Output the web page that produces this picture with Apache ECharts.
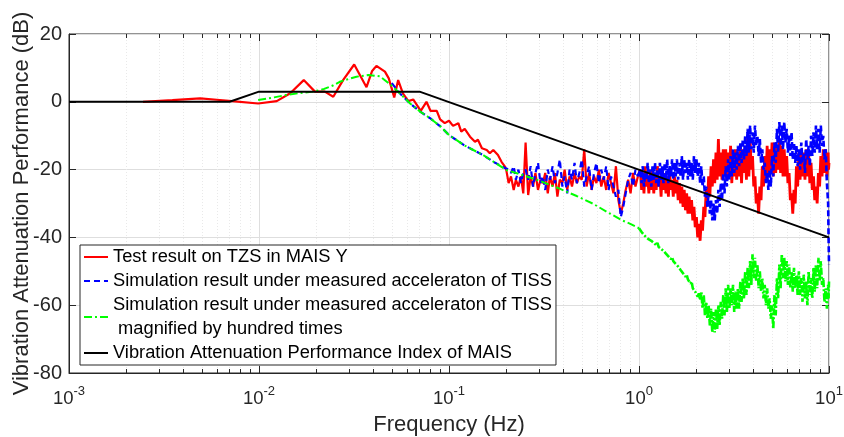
<!DOCTYPE html>
<html>
<head>
<meta charset="utf-8">
<title>Vibration Attenuation Performance</title>
<script src="https://cdn.jsdelivr.net/npm/echarts@6/dist/echarts.min.js"></script>
<style>
  html, body { margin: 0; padding: 0; background: #fff; }
  #chart { width: 844px; height: 437px; }
</style>
</head>
<body>
<div id="chart"></div>
<script>
// ---- Test result on TZS below 0.2 Hz (Hz / dB) ----
const testLowF = [0.00245, 0.0035, 0.0049, 0.0060, 0.0072, 0.0099, 0.0124, 0.0146, 0.0172, 0.0197,
  0.0222, 0.0246, 0.0277, 0.0317, 0.0368, 0.0394, 0.0415, 0.046, 0.0482, 0.0515,
  0.054, 0.0572, 0.0611, 0.0648, 0.0710, 0.0761, 0.0800, 0.0862, 0.0898, 0.095,
  0.100, 0.105, 0.112, 0.116, 0.121, 0.129, 0.137, 0.142, 0.149, 0.158,
  0.164, 0.171, 0.181, 0.189, 0.197];
const testLowDb = [0, 0.5, 1.0, 0.6, 0.2, -0.5, 0.2, 2.5, 6.4, 3,
  3, 1.5, 6.4, 11, 4.3, 9.1, 10.6, 8.9, 6.9, 1.3,
  6.4, 2.5, 0.2, 0.7, -2.7, 0, -2.7, -2.7, -5.2, -6.3,
  -5.6, -7.1, -6.3, -8.8, -8, -10.3, -11.8, -11.2, -13.7, -14.2,
  -15.2, -14.2, -15.7, -17.7, -19.1];

// ---- Frequency samples from 0.2 Hz to 1 Hz ----
const midFreq = [
  0.200, 0.206, 0.212, 0.219, 0.225, 0.232, 0.239, 0.246, 0.253, 0.261,
  0.269, 0.277, 0.285, 0.294, 0.303, 0.312, 0.321, 0.331, 0.340, 0.351,
  0.361, 0.372, 0.383, 0.395, 0.406, 0.419, 0.431, 0.444, 0.458, 0.471,
  0.485, 0.500, 0.515, 0.530, 0.546, 0.563, 0.580, 0.597, 0.615, 0.633,
  0.652, 0.672, 0.692, 0.713, 0.734, 0.756, 0.779, 0.802, 0.826, 0.851,
  0.877, 0.903, 0.930, 0.958, 0.987];

// ---- Frequency samples from 1 Hz to 10 Hz (denser) ----
const denseFreq = [
  1.017, 1.032, 1.047, 1.062, 1.078, 1.094, 1.111, 1.127, 1.144, 1.161,
  1.178, 1.196, 1.214, 1.232, 1.250, 1.269, 1.288, 1.307, 1.326, 1.346,
  1.366, 1.386, 1.407, 1.428, 1.449, 1.471, 1.493, 1.515, 1.537, 1.560,
  1.583, 1.607, 1.631, 1.655, 1.680, 1.705, 1.730, 1.756, 1.782, 1.809,
  1.836, 1.863, 1.891, 1.919, 1.947, 1.976, 2.006, 2.036, 2.066, 2.097,
  2.128, 2.160, 2.192, 2.224, 2.257, 2.291, 2.325, 2.360, 2.395, 2.431,
  2.467, 2.504, 2.541, 2.579, 2.617, 2.656, 2.695, 2.735, 2.776, 2.818,
  2.860, 2.902, 2.945, 2.989, 3.034, 3.079, 3.125, 3.171, 3.218, 3.266,
  3.315, 3.365, 3.414, 3.465, 3.517, 3.569, 3.622, 3.676, 3.731, 3.787,
  3.843, 3.900, 3.958, 4.017, 4.077, 4.138, 4.199, 4.262, 4.325, 4.390,
  4.455, 4.522, 4.589, 4.657, 4.726, 4.797, 4.868, 4.941, 5.014, 5.089,
  5.165, 5.242, 5.320, 5.399, 5.479, 5.561, 5.643, 5.728, 5.813, 5.900,
  5.987, 6.077, 6.167, 6.259, 6.352, 6.446, 6.542, 6.640, 6.739, 6.840,
  6.941, 7.045, 7.149, 7.256, 7.363, 7.473, 7.584, 7.698, 7.812, 7.929,
  8.046, 8.166, 8.287, 8.411, 8.536, 8.664, 8.792, 8.924, 9.056, 9.191,
  9.327, 9.466, 9.607, 9.750, 9.895, 9.947, 10.0];

// ---- Test result on TZS, 0.2-1 Hz (one per midFreq) ----
const testMidDb = [
  -20, -24, -22, -26, -23, -25, -22, -27, -12, -27.5,
  -22, -25, -21, -26, -23, -24, -21, -27, -22, -25,
  -21, -28, -23, -24, -20, -26, -22, -25, -21, -24,
  -22, -23, -14, -25, -21, -26, -22, -24, -20, -25,
  -22, -26, -21, -24, -27, -19, -29, -33, -30, -26,
  -23, -27, -21, -25, -22];
// ---- Test result on TZS, 1-10 Hz (one per denseFreq) ----
const testDenseDb = [
  -20, -26, -21, -27, -19, -25, -22, -27, -20, -26,
  -20, -27, -21, -26, -19, -25, -22, -28, -20, -26,
  -21, -27, -22, -28, -21, -26, -23, -28, -22, -27,
  -23, -29, -24, -30, -25, -31, -26, -32, -27, -33,
  -28, -33, -29, -35, -31, -37, -34, -40, -36, -41,
  -35, -38, -31, -34, -26, -30, -22, -28, -19, -25,
  -17, -24, -15, -23, -11, -22, -15, -23, -14, -22,
  -14, -23, -15, -22, -13, -24, -15, -22, -14, -23,
  -15, -22, -13, -24, -14, -21, -13, -23, -10, -22,
  -11, -20, -16, -25, -22, -30, -27, -33, -25, -29,
  -19, -25, -16, -23, -13, -22, -14, -21, -12, -22,
  -12, -21, -13, -20, -11, -21, -13, -22, -14, -22,
  -16, -24, -21, -29, -27, -33, -26, -30, -19, -25,
  -15, -23, -14, -22, -15, -23, -14, -22, -16, -24,
  -18, -26, -22, -29, -25, -30, -21, -25, -16, -22,
  -14, -21, -14, -22, -15, -20, -18];

// ---- Simulation under measured acceleration of TISS ----
const simLowF = [0.050, 0.0551, 0.0624, 0.0705, 0.0798, 0.0903, 0.100, 0.120, 0.151, 0.175, 0.197];
const simLowDb = [5.5, 2.5, -0.5, -2.9, -4.9, -7.3, -9.8, -12.8, -15.7, -18, -19.5];
const simMidDb = [
  -19, -20, -21, -19, -23, -20, -24, -21, -20, -23,
  -19, -25, -21, -18, -24, -22, -26, -20, -23, -19,
  -24, -21, -17, -25, -22, -27, -20, -23, -18, -24,
  -21, -17, -25, -22, -19, -26, -21, -18, -24, -20,
  -23, -19, -26, -22, -25, -28, -26, -34, -31, -27,
  -23, -21, -25, -20, -22];
const simDenseDb = [
  -20, -24, -19, -25, -21, -23, -18, -24, -20, -25,
  -19, -23, -18, -24, -20, -25, -18, -23, -19, -24,
  -18, -23, -17, -24, -19, -22, -17, -23, -18, -22,
  -17, -23, -18, -22, -16, -23, -17, -21, -18, -23,
  -17, -22, -18, -23, -16, -21, -17, -22, -18, -24,
  -19, -25, -22, -28, -25, -31, -27, -33, -29, -35,
  -30, -35, -29, -33, -26, -31, -24, -29, -21, -27,
  -19, -25, -17, -23, -16, -22, -14, -21, -15, -20,
  -13, -19, -12, -18, -11, -17, -10, -16, -8, -15,
  -7, -14, -9, -15, -7, -13, -10, -16, -11, -18,
  -14, -20, -18, -24, -21, -26, -20, -25, -16, -22,
  -12, -18, -8, -15, -6, -13, -7, -14, -6, -12,
  -8, -15, -10, -16, -9, -17, -12, -18, -13, -19,
  -14, -20, -12, -18, -15, -21, -11, -17, -13, -19,
  -10, -16, -9, -15, -7, -14, -8, -15, -7, -13,
  -10, -17, -14, -24, -30, -40, -48];

// ---- Same simulation magnified by hundred times ----
const magLowF = [0.0099, 0.012, 0.0139, 0.0165, 0.0193, 0.022, 0.0245, 0.0266, 0.0295, 0.0326,
  0.0376, 0.0433, 0.0489, 0.0551, 0.0624, 0.0705, 0.0798, 0.0903, 0.100, 0.120,
  0.151, 0.175, 0.200, 0.250, 0.300, 0.385, 0.470, 0.570, 0.680, 0.810,
  0.900, 1.000];
const magLowDb = [0.5, 1.3, 2.0, 2.6, 3.0, 3.8, 4.8, 5.9, 6.7, 7.4,
  7.9, 7.5, 5.2, 2.5, -0.5, -2.9, -4.9, -7.3, -9.8, -12.8,
  -15.7, -18, -20.1, -21.8, -23.3, -25.7, -27.8, -30, -32.5, -34.9,
  -36, -37.3];
const magDenseDb = [
  -37.8, -38.4, -38.5, -39.3, -39, -40, -39.8, -40.6, -40.3, -41,
  -40.6, -41.6, -41.4, -42.3, -41.6, -42.8, -42.5, -43.4, -43, -44,
  -44, -44.8, -44.3, -45.6, -45.6, -46.4, -45.8, -47, -47.2, -47.8,
  -47.6, -48.6, -49, -49.6, -49.2, -50.6, -51, -51.6, -51, -52.4,
  -52.8, -53.6, -53, -55, -55, -56, -55.5, -57.5, -56.5, -58.5,
  -56, -61, -57, -63, -59, -64, -60, -66, -61, -68,
  -62, -68, -61, -67, -60, -66, -59, -64, -57, -63,
  -55, -62, -54, -61, -55, -60, -54, -62, -56, -61,
  -55, -61, -53, -59, -52, -58, -50, -57, -49, -55,
  -47, -54, -45, -52, -46, -53, -48, -55, -50, -56,
  -52, -58, -54, -60, -55, -61, -58, -64, -60, -67,
  -57, -63, -52, -58, -48, -55, -45, -52, -46, -53,
  -47, -54, -48, -55, -50, -56, -49, -55, -51, -57,
  -50, -57, -52, -59, -51, -58, -53, -60, -50, -57,
  -52, -58, -49, -56, -48, -55, -46, -53, -47, -54,
  -52, -59, -55, -61, -54, -58, -53];

// ---- Vibration attenuation performance index of MAIS ----
const indexF = [0.001, 0.007, 0.01, 0.07, 10];
const indexDb = [0, 0, 3, 3, -40];

// ---- Axis ticks ----
const yTicks = [-80, -60, -40, -20, 0, 20];
const decades = [-3, -2, -1, 0];
const minorMultipliers = [2, 3, 4, 5, 6, 7, 8, 9];

const pairs = (fs, vs) => fs.map((f, i) => [f, vs[i]]);

// below 1 Hz: thin strokes; above 1 Hz the curves form dense bands
const testLight = pairs(testLowF, testLowDb).concat(pairs(midFreq, testMidDb));
const testDense = testLight.slice(-1).concat(pairs(denseFreq, testDenseDb));
const simLight = pairs(simLowF, simLowDb).concat(pairs(midFreq, simMidDb));
const simDense = simLight.slice(-1).concat(pairs(denseFreq, simDenseDb));
const magLight = pairs(magLowF, magLowDb);
const magDense = magLight.slice(-1).concat(pairs(denseFreq, magDenseDb));
const indexData = pairs(indexF, indexDb);

// minor tick positions in log10 units (for the helper value axes)
const minorLog = [];
decades.forEach(d => minorMultipliers.forEach(m => minorLog.push(Math.log10(m) + d)));

const FONT = '"Liberation Sans", Arial, Helvetica, sans-serif';
const INK = '#262626';

const NAME_TEST = 'Test result on TZS in MAIS Y';
const NAME_SIM = 'Simulation result under measured acceleraton of TISS';
const NAME_MAG = 'Simulation result under measured acceleraton of TISS\n magnified by hundred times';
const NAME_INDEX = 'Vibration Attenuation Performance Index of MAIS';

const chart = echarts.init(document.getElementById('chart'), null, { renderer: 'canvas' });

const hidden = { show: false };
const noLine = { show: false, onZero: false };

function lineSeries(name, data, color, width, dash, z) {
  return {
    name, type: 'line', data, symbol: 'none', z,
    lineStyle: { color, width, type: dash || 'solid' },
    itemStyle: { color }
  };
}

chart.setOption({
  animation: false,
  backgroundColor: '#ffffff',
  textStyle: { fontFamily: FONT },
  grid: {
    left: 69, right: 15, top: 34, bottom: 64,
    show: true, borderColor: INK, borderWidth: 1, backgroundColor: '#ffffff',
    outerBoundsMode: 'none'
  },
  legend: {
    orient: 'vertical',
    left: 80, top: 245,
    padding: [0, 4, 0, 3],
    itemGap: 0,
    itemWidth: 24, itemHeight: 2,
    icon: 'inherit',
    backgroundColor: '#ffffff',
    borderColor: INK, borderWidth: 1, borderRadius: 0,
    selectedMode: false,
    textStyle: { fontFamily: FONT, fontSize: 18.3, color: '#000000', lineHeight: 24 },
    data: [NAME_TEST, NAME_SIM, NAME_MAG, NAME_INDEX]
  },
  xAxis: [
    {
      type: 'log', logBase: 10, min: 0.001, max: 10, position: 'bottom',
      name: 'Frequency (Hz)', nameLocation: 'middle', nameGap: 41, nameMoveOverlap: false,
      nameTextStyle: { fontFamily: FONT, fontSize: 22, color: INK },
      axisLine: { show: true, onZero: false, lineStyle: { color: INK, width: 1 } },
      axisTick: { show: true, inside: true, length: 7, lineStyle: { color: INK } },
      minorTick: hidden,
      axisLabel: {
        margin: 9,
        formatter: v => '{b|10}{e|' + Math.round(Math.log10(v)) + '}',
        rich: {
          b: { fontFamily: FONT, fontSize: 18.5, color: INK, verticalAlign: 'bottom', lineHeight: 26 },
          e: { fontFamily: FONT, fontSize: 13, color: INK, verticalAlign: 'top', lineHeight: 15, padding: [3, 0, 0, 0] }
        }
      },
      splitLine: { show: true, lineStyle: { color: '#dedede', width: 1 } }
    },
    {
      type: 'log', logBase: 10, min: 0.001, max: 10, position: 'top',
      axisLine: noLine,
      axisTick: { show: true, inside: true, length: 7, lineStyle: { color: INK } },
      axisLabel: hidden, splitLine: hidden
    },
    {
      type: 'value', min: -3, max: 1, position: 'bottom',
      axisLine: noLine,
      axisTick: { show: true, inside: true, length: 4, customValues: minorLog, lineStyle: { color: INK } },
      axisLabel: { show: false, customValues: minorLog },
      splitLine: { show: true, lineStyle: { color: '#e9e9e9', width: 1, type: [1, 2] } }
    },
    {
      type: 'value', min: -3, max: 1, position: 'top',
      axisLine: noLine,
      axisTick: { show: true, inside: true, length: 4, customValues: minorLog, lineStyle: { color: INK } },
      axisLabel: { show: false, customValues: minorLog },
      splitLine: hidden
    }
  ],
  yAxis: [
    {
      type: 'value', min: -80, max: 20, interval: 20, position: 'left',
      name: 'Vibration Attenuation Performance (dB)', nameLocation: 'middle', nameGap: 36, nameMoveOverlap: false,
      nameTextStyle: { fontFamily: FONT, fontSize: 22, color: INK },
      axisLine: { show: true, onZero: false, lineStyle: { color: INK, width: 1 } },
      axisTick: { show: true, inside: true, length: 7, lineStyle: { color: INK } },
      axisLabel: { margin: 7, fontFamily: FONT, fontSize: 20, color: INK, customValues: yTicks },
      splitLine: { show: true, lineStyle: { color: '#dedede', width: 1 } }
    },
    {
      type: 'value', min: -80, max: 20, interval: 20, position: 'right',
      axisLine: noLine,
      axisTick: { show: true, inside: true, length: 7, lineStyle: { color: INK } },
      axisLabel: hidden, splitLine: hidden
    }
  ],
  series: [
    lineSeries(NAME_TEST, testLight, '#ff0000', 2.2, null, 10),
    lineSeries(NAME_TEST, testDense, '#ff0000', 2.8, null, 10),
    lineSeries(NAME_SIM, simLight, '#0000ff', 2.2, [6, 4], 11),
    lineSeries(NAME_SIM, simDense, '#0000ff', 2.6, [6, 3], 11),
    lineSeries(NAME_MAG, magLight, '#00ff00', 2, [8, 3, 2, 3], 12),
    lineSeries(NAME_MAG, magDense, '#00ff00', 2.6, [7, 2, 2, 2], 12),
    lineSeries(NAME_INDEX, indexData, '#000000', 2, null, 13)
  ]
});
</script>
</body>
</html>
